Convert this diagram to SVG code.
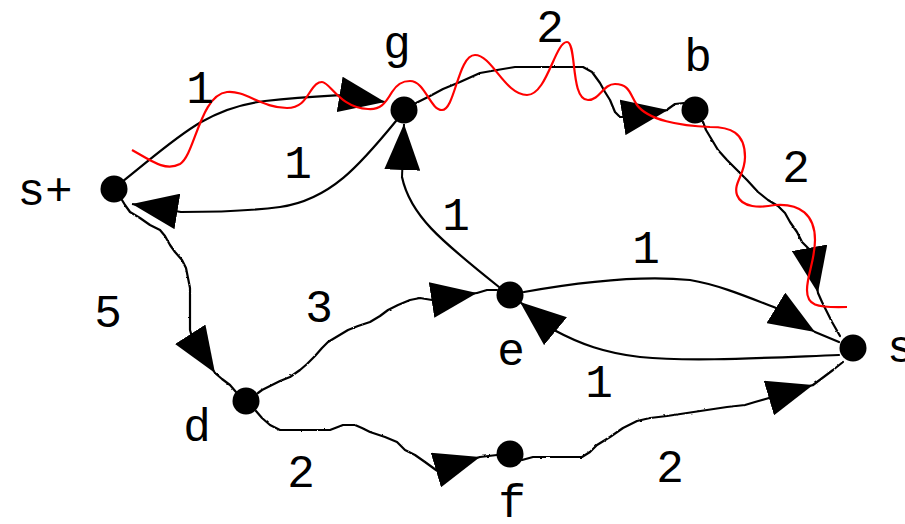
<svg xmlns="http://www.w3.org/2000/svg" width="905" height="524" viewBox="0 0 905 524">
<style>
.lbl{font-family:"Liberation Mono","DejaVu Sans Mono",monospace;font-size:46px;fill:#000;text-anchor:middle}
.e{fill:none;stroke:#000;stroke-width:2.2;stroke-linejoin:round;stroke-linecap:round}
.w{filter:url(#wob)}
.a{fill:none;stroke:#000;stroke-width:2;marker-end:url(#ah)}
.red{fill:none;stroke:#f00;stroke-width:2.2}
.node{fill:#000}
</style>
<defs>
<marker id="ah" viewBox="0 0 46 36" refX="46" refY="18" markerWidth="46" markerHeight="36" markerUnits="userSpaceOnUse" orient="auto">
<path d="M0,0 L46,18 L0,36 z" fill="#000"/>
</marker>
<filter id="wob" x="-20%" y="-20%" width="140%" height="140%">
<feTurbulence type="fractalNoise" baseFrequency="0.3" numOctaves="1" seed="3" result="n"/>
<feDisplacementMap in="SourceGraphic" in2="n" scale="2.2" xChannelSelector="R" yChannelSelector="G"/>
</filter>
</defs>
<g id="connectors">
<!-- s+ -> g -->
<path class="e" d="M122,182 C175,140 205,108 265,101 C300,97 325,96 343,95"/>
<path class="a" d="M343,95 L385,102"/>
<!-- g -> s+ -->
<path class="e" d="M396,121 C360,165 330,200 280,207 C250,211 215,212 181,212"/>
<path class="a" d="M181,212 L132,204"/>
<!-- g -> b -->
<path class="e w" d="M416,103 L430,96 L443,89 L460,82 L480,73 L497,70 L515,67 L583,67 L592,72 L600,83 L605,92 L610,100 L615,112 L620,117 L625,117"/>
<path class="a" d="M625,117 L668,110"/>
<path class="e w" d="M668,109 L675,104 L684,103"/>
<!-- b -> s- -->
<path class="e w" d="M703,122 L706,130 L712,140 L718,150 L727,160 L737,170 L747,180 L758,192 L768,200 L778,206 L785,213 L790,222 L797,232 L802,242 L810,250"/>
<path class="a" d="M810,250 L818,293"/>
<path class="e w" d="M818,293 L822,302 L826,310 L832,322 L840,336"/>
<!-- e -> g -->
<path class="e" d="M499,287 C440,240 410,215 402,177"/>
<path class="a" d="M402,177 L404,124"/>
<!-- e -> s- -->
<path class="e" d="M524,292 C580,282 640,275 690,280 C720,285 750,298 776,308"/>
<path class="a" d="M776,308 L815,332"/>
<path class="e" d="M815,332 L839,342"/>
<!-- s- -> e -->
<path class="e" d="M839,355 C760,358 690,362 640,357 C605,353 580,344 554,330"/>
<path class="a" d="M554,330 L520,302"/>
<!-- s+ -> d -->
<path class="e w" d="M122,200 L125,205 L130,212 L140,218 L150,225 L160,230 L165,236 L170,245 L175,252 L182,260 L186,268 L188,278 L190,288 L190,300 L190,315 L190,330 L192,337"/>
<path class="a" d="M192,337 L215,373"/>
<path class="e w" d="M215,373 L222,379 L230,385 L236,392"/>
<!-- d -> e -->
<path class="e w" d="M258,393 L262,390 L270,386 L280,381 L290,377 L300,370 L307,364 L315,356 L322,348 L328,342 L338,336 L348,330 L358,326 L370,322 L380,316 L388,310 L398,305 L410,300 L420,298 L432,300"/>
<path class="a" d="M432,300 L477,293"/>
<path class="e w" d="M477,293 L487,290 L497,290"/>
<!-- d -> f -->
<path class="e w" d="M256,411 L262,418 L270,425 L280,430 L330,430 L343,425 L355,425 L362,428 L370,432 L385,437 L397,442 L405,450 L415,455 L425,462 L436,470"/>
<path class="a" d="M436,470 L480,457"/>
<path class="e w" d="M480,457 L497,455"/>
<!-- f -> s- -->
<path class="e w" d="M522,460 L533,457 L582,457 L590,452 L597,445 L610,437 L623,428 L637,421 L650,418 L667,416 L687,413 L707,410 L727,407 L745,405 L755,402 L769,398"/>
<path class="a" d="M769,398 L813,385"/>
<path class="e w" d="M813,385 L825,376 L833,370 L843,362"/>
<!-- highlighted path -->
<path class="red" d="M132,150 C150,160 165,172 180,164 C195,155 200,95 227,92 C245,90 262,108 287,108 C300,108 305,100 310,92 C315,84 318,82 322,82 C330,82 340,108 368,109 C380,110 385,104 392,92 C397,84 402,81 410,81 C425,81 430,110 442,110 C455,110 458,55 475,55 C492,55 505,95 527,95 C547,95 555,42 567,42 C577,42 570,100 588,100 C600,100 603,84 615,84 C630,84 630,95 637,105 C648,120 680,126 710,127 C730,127 745,132 745,157 C745,175 733,183 737,195 C742,208 760,208 775,205 C800,203 815,215 815,240 C815,260 807,275 807,290 C807,305 815,308 847,307"/>
</g>
<g id="edge-labels">
<text class="lbl" x="200" y="103">1</text>
<text class="lbl" x="298" y="178">1</text>
<text class="lbl" x="550" y="42">2</text>
<text class="lbl" x="796" y="182">2</text>
<text class="lbl" x="456" y="230">1</text>
<text class="lbl" x="646" y="263">1</text>
<text class="lbl" x="599" y="397">1</text>
<text class="lbl" x="108" y="327">5</text>
<text class="lbl" x="319" y="322">3</text>
<text class="lbl" x="301" y="487">2</text>
<text class="lbl" x="670" y="482">2</text>
</g>
<g id="node-splus"><circle class="node" cx="114" cy="189" r="13.5"/><text class="lbl" x="45" y="205">s+</text></g>
<g id="node-g"><circle class="node" cx="404" cy="110" r="13.5"/><text class="lbl" x="397" y="58">g</text></g>
<g id="node-b"><circle class="node" cx="695" cy="110" r="13.5"/><text class="lbl" x="698" y="71">b</text></g>
<g id="node-e"><circle class="node" cx="510" cy="295" r="13.5"/><text class="lbl" x="511" y="365">e</text></g>
<g id="node-sminus"><circle class="node" cx="853" cy="348" r="13.5"/><text class="lbl" x="887" y="362" style="text-anchor:start">s-</text></g>
<g id="node-d"><circle class="node" cx="246" cy="401" r="13.5"/><text class="lbl" x="197" y="441">d</text></g>
<g id="node-f"><circle class="node" cx="510" cy="454" r="13.5"/><text class="lbl" x="512" y="517">f</text></g>
</svg>
